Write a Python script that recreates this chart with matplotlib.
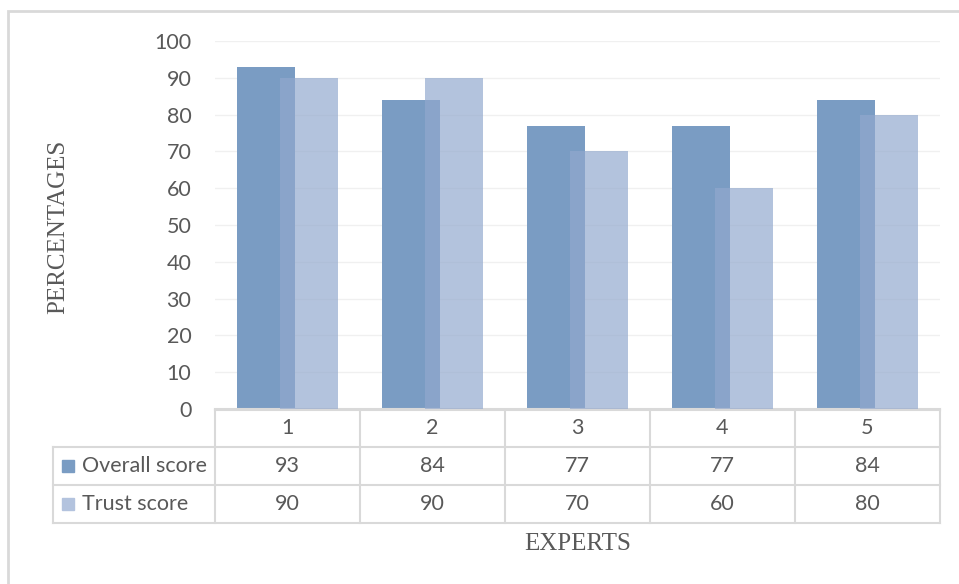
import numpy as np
import matplotlib
matplotlib.use("Agg")
import matplotlib.pyplot as plt
from matplotlib.patches import Rectangle
from matplotlib.lines import Line2D

experts = ["1", "2", "3", "4", "5"]
overall = [93, 84, 77, 77, 84]
trust = [90, 90, 70, 60, 80]
series = ["Overall score", "Trust score"]
yticks = [0, 10, 20, 30, 40, 50, 60, 70, 80, 90, 100]

c_overall = "#7a9cc3"
c_trust = (146/255, 169/255, 206/255)
c_trust_key = "#b3c3de"
txt = "#595959"
gridc = "#d9d9d9"

W, H = 959, 584
fig = plt.figure(figsize=(W/100, H/100), dpi=100)

# pixel -> figure fraction helpers
def fx(p):
    return p / W
def fy(p):
    return 1 - p / H

# outer chart border (runs off right/bottom)
fig.patches.append(Rectangle((fx(8), fy(600)), fx(1000), fy(11) - fy(600),
                             transform=fig.transFigure, fill=False,
                             edgecolor="#d9d9d9", lw=2))

x0, x1, ytop, ybot = 215, 940, 41, 409
ax = fig.add_axes([fx(x0), fy(ybot), fx(x1) - fx(x0), fy(ytop) - fy(ybot)])

x = np.arange(len(experts))
bw = 0.397
off = 0.148
ax.bar(x - off, overall, bw, color=c_overall, zorder=2)
ax.bar(x + off, trust, bw, color=c_trust, alpha=0.69, zorder=3)

ax.set_xlim(-0.5, len(experts) - 0.5)
ax.set_ylim(0, 100)
ax.set_yticks(yticks)
ax.yaxis.grid(True, color="#f0f0f0", lw=1, zorder=0)
ax.set_xticks([])
ax.tick_params(axis="y", length=0, pad=17, labelsize=15.5, labelcolor=txt)
for lab in ax.get_yticklabels():
    lab.set_fontfamily("Lato")
for s in ["top", "right", "left"]:
    ax.spines[s].set_visible(False)
ax.spines["bottom"].set_color(gridc)
ax.spines["bottom"].set_linewidth(1.5)

# data table under the axis
rows = [410, 447, 485, 523]
col_edges = [x0 + i * (x1 - x0) / len(experts) for i in range(len(experts) + 1)]
tl = 53

def hline(y, xa, xb):
    fig.add_artist(Line2D([fx(xa), fx(xb)], [fy(y), fy(y)], color=gridc, lw=1.5))

def vline(xp, ya, yb):
    fig.add_artist(Line2D([fx(xp), fx(xp)], [fy(ya), fy(yb)], color=gridc, lw=1.5))

hline(rows[0], x0, x1)
for r in rows[1:]:
    hline(r, tl, x1)
vline(tl, rows[1], rows[3])
for i, c in enumerate(col_edges):
    vline(c, rows[0], rows[3])

ttf = dict(family="Lato", size=15.5, color=txt, ha="center", va="center")
for i, e in enumerate(experts):
    cx = (col_edges[i] + col_edges[i + 1]) / 2
    fig.text(fx(cx), fy((rows[0] + rows[1]) / 2), e, **ttf)
    fig.text(fx(cx), fy((rows[1] + rows[2]) / 2), str(overall[i]), **ttf)
    fig.text(fx(cx), fy((rows[2] + rows[3]) / 2), str(trust[i]), **ttf)

for j, (name, col) in enumerate(zip(series, [c_overall, c_trust_key])):
    ym = (rows[j + 1] + rows[j + 2]) / 2
    fig.patches.append(Rectangle((fx(62), fy(ym + 6)), fx(12), fy(ym - 6) - fy(ym + 6),
                                 transform=fig.transFigure, color=col))
    fig.text(fx(82), fy(ym), name, family="Lato", size=15.5, color=txt,
             ha="left", va="center")

fig.text(fx((x0 + x1) / 2), fy(544), "EXPERTS", family="Liberation Serif",
         size=18, color=txt, ha="center", va="center")
fig.text(fx(58), fy(227), "PERCENTAGES", family="Liberation Serif",
         size=18, color=txt, ha="center", va="center", rotation=90)

fig.savefig("out.png", dpi=100)
